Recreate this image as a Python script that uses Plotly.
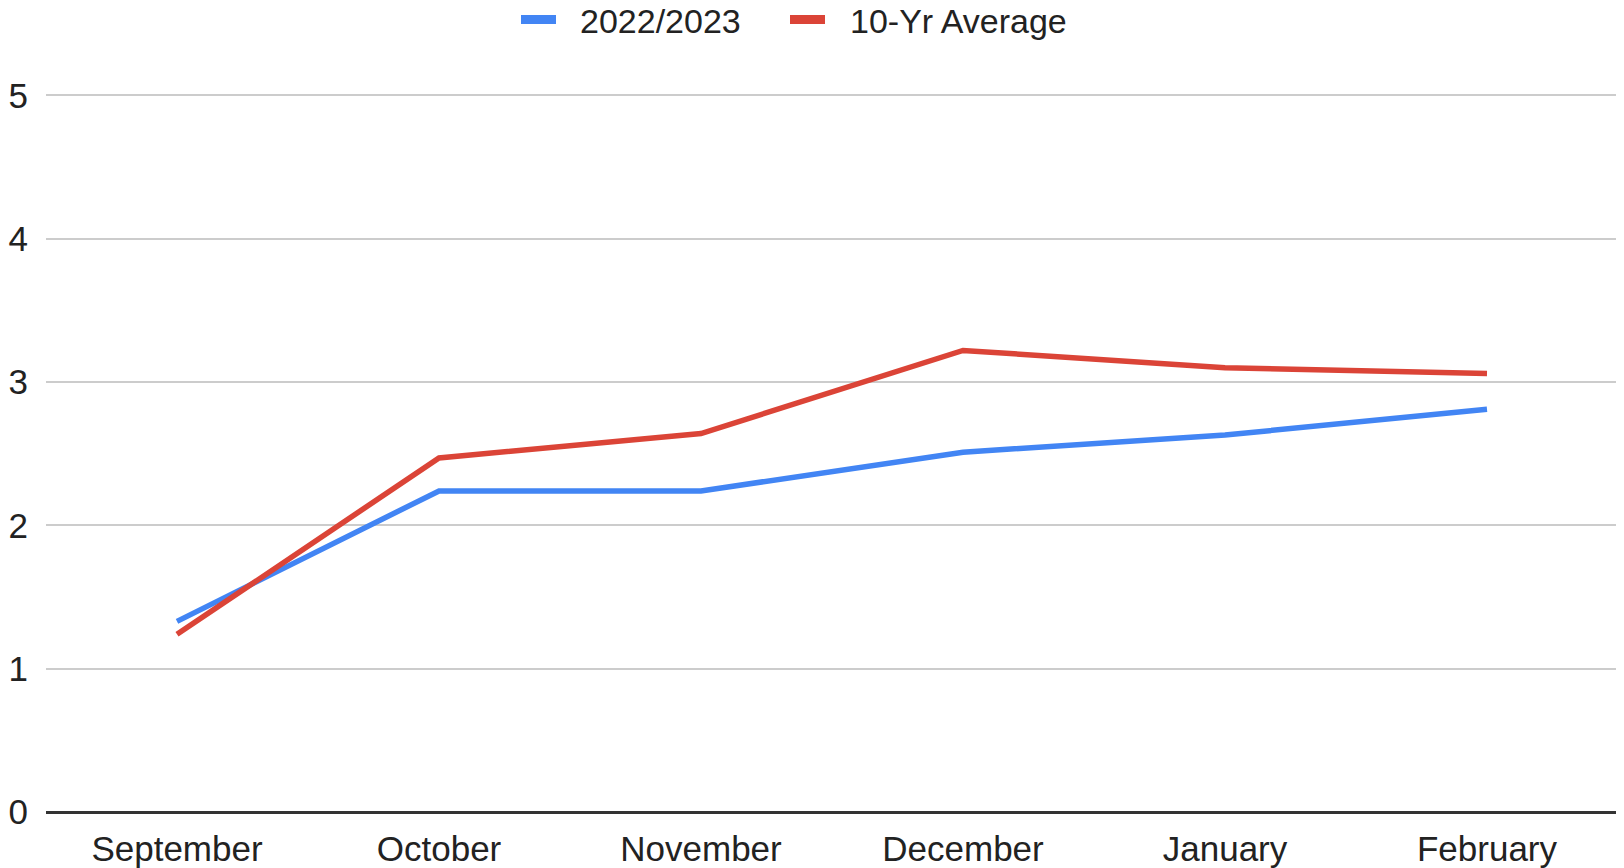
import plotly.graph_objects as go

months = ["September", "October", "November", "December", "January", "February"]
season_2022_2023 = [1.33, 2.24, 2.24, 2.51, 2.63, 2.81]
ten_yr_average = [1.24, 2.47, 2.64, 3.22, 3.10, 3.06]
y_ticks = [0, 1, 2, 3, 4, 5]
series_names = ["2022/2023", "10-Yr Average"]
series_colors = ["#4285F4", "#DB4437"]

FONT = "Liberation Sans, Arial, sans-serif"
W, H = 1624, 868
OFF = 8  # default page body margin
L, R, T, B = 46 - OFF, 6 + OFF, 91 - OFF, 56 + OFF
YMAX = 5.03

fig = go.Figure()
for name, vals, col in zip(series_names, [season_2022_2023, ten_yr_average], series_colors):
    fig.add_trace(go.Scatter(x=months, y=vals, mode="lines", name=name,
                             line=dict(color=col, width=5.5), showlegend=False))

# custom legend (layout decoration): page pixels -> paper coords
def px_x(p):
    return (p - OFF - L) / (W - L - R)

def px_y(p):
    return (H - B - (p - OFF)) / (H - T - B)

legend_items = [(521, 556, 579), (790, 825, 849)]
for (x0, x1, tx), name, col in zip(legend_items, series_names, series_colors):
    fig.add_shape(type="rect", xref="paper", yref="paper",
                  x0=px_x(x0), x1=px_x(x1), y0=px_y(24), y1=px_y(15),
                  fillcolor=col, line=dict(width=0))
    fig.add_annotation(xref="paper", yref="paper", x=px_x(tx), y=px_y(21),
                       xanchor="left", yanchor="middle", text=name, showarrow=False,
                       borderpad=0,
                       font=dict(family=FONT, size=34, color="#222222"))

fig.update_layout(
    width=W, height=H,
    margin=dict(l=L, r=R, t=T, b=B, autoexpand=False),
    paper_bgcolor="white", plot_bgcolor="white",
    font=dict(family=FONT, size=35, color="#222222"),
    showlegend=False,
    xaxis=dict(type="category", range=[-0.5, 5.5], showgrid=False, showline=False,
               ticks="", tickfont=dict(size=35, color="#222222"), ticklabelstandoff=13,
               zeroline=False, automargin=False),
    yaxis=dict(range=[0, YMAX], tickvals=y_ticks, showgrid=True, gridcolor="#cccccc", gridwidth=2,
               zeroline=True, zerolinecolor="#333333", zerolinewidth=3, showline=False,
               ticks="", tickfont=dict(size=35, color="#222222"), ticklabelstandoff=17,
               automargin=False),
)

fig.write_html("out.html")
